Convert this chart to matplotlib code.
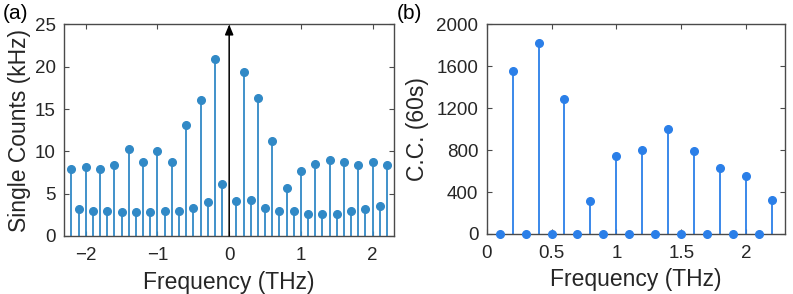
import numpy as np
import matplotlib
matplotlib.use("Agg")
import matplotlib.pyplot as plt

plt.rcParams['font.family'] = ['Liberation Sans', 'DejaVu Sans']

# panel (a): single counts vs detuning
freqA = [-2.2, -2.1, -2.0, -1.9, -1.8, -1.7, -1.6, -1.5, -1.4, -1.3, -1.2,
         -1.1, -1.0, -0.9, -0.8, -0.7, -0.6, -0.5, -0.4, -0.3, -0.2, -0.1,
         0.1, 0.2, 0.3, 0.4, 0.5, 0.6, 0.7, 0.8, 0.9, 1.0, 1.1, 1.2,
         1.3, 1.4, 1.5, 1.6, 1.7, 1.8, 1.9, 2.0, 2.1, 2.2]
countsA = [7.9, 3.2, 8.2, 3.0, 7.9, 2.9, 8.4, 2.8, 10.3, 2.8, 8.8,
           2.8, 10.1, 2.9, 8.7, 3.0, 13.1, 3.3, 16.1, 4.0, 20.9, 6.2,
           4.1, 19.4, 4.2, 16.3, 3.3, 11.2, 2.9, 5.7, 2.9, 7.7, 2.6, 8.5,
           2.6, 9.0, 2.6, 8.75, 3.0, 8.4, 3.2, 8.8, 3.5, 8.4]

# panel (b): coincidence counts
freqB = [0.1, 0.2, 0.3, 0.4, 0.5, 0.6, 0.7, 0.8, 0.9, 1.0, 1.1, 1.2,
         1.3, 1.4, 1.5, 1.6, 1.7, 1.8, 1.9, 2.0, 2.1, 2.2]
ccB = [0, 1550, 0, 1820, 0, 1290, 0, 310, 0, 740, 0, 800,
       0, 1000, 0, 790, 0, 630, 0, 555, 0, 325]

colA = '#3189c6'
colB = '#2b7fe8'
spine = '#4a4a4a'

fig = plt.figure(figsize=(7.93, 2.94), dpi=100)
axA = fig.add_axes([0.0811, 0.1973, 0.4158, 0.7194])
axB = fig.add_axes([0.6137, 0.2041, 0.3762, 0.7133])

def style(ax):
    for s in ax.spines.values():
        s.set_color(spine)
        s.set_linewidth(1.0)
    ax.tick_params(direction='in', top=True, right=True, length=3.5,
                   width=0.8, color=spine, labelsize=13.5, pad=6,
                   labelcolor='#262626')
    ax.tick_params(axis='x', pad=8)

axA.vlines(freqA, 0, countsA, color=colA, lw=1.3)
axA.plot(freqA, countsA, 'o', color=colA, ms=5.5)
axA.annotate('', xy=(0, 25), xytext=(0, 0),
             arrowprops=dict(arrowstyle='-|>,head_length=0.6,head_width=0.25',
                             color='black', lw=1.1, shrinkA=0, shrinkB=0))
axA.set_xlim(-2.3, 2.3)
axA.set_ylim(0, 25)
axA.set_xticks([-2, -1, 0, 1, 2])
axA.set_yticks([0, 5, 10, 15, 20, 25])
axA.set_xlabel('Frequency (THz)', fontsize=16.5, color='#262626', labelpad=5)
axA.set_ylabel('Single Counts (kHz)', fontsize=16.5, color='#262626', labelpad=3)
style(axA)

axB.vlines(freqB, 0, ccB, color=colB, lw=1.3)
axB.plot(freqB, ccB, 'o', color=colB, ms=5.5, clip_on=False, zorder=3)
axB.set_xlim(0, 2.3)
axB.set_ylim(0, 2000)
axB.set_xticks([0, 0.5, 1, 1.5, 2])
axB.set_xticklabels(['0', '0.5', '1', '1.5', '2'])
axB.set_yticks([0, 400, 800, 1200, 1600, 2000])
axB.set_xlabel('Frequency (THz)', fontsize=16.5, color='#262626', labelpad=4)
axB.set_ylabel('C.C. (60s)', fontsize=16.5, color='#262626', labelpad=5)
style(axB)

fig.text(0.003, 0.955, '(a)', fontsize=15, color='black', va='center')
fig.text(0.500, 0.955, '(b)', fontsize=15, color='black', va='center')

fig.savefig('out.png', dpi=100)
